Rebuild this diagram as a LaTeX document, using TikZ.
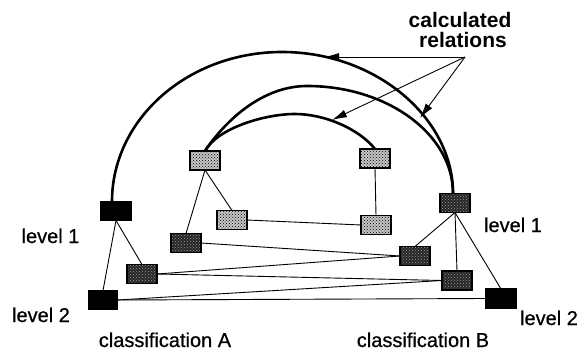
\documentclass[tikz,border=0pt]{standalone}
\usepackage{fontspec}
\setmainfont{Liberation Sans}
\newfontfamily\heavyfont[FakeBold=0.7]{Liberation Sans}
\usetikzlibrary{patterns,arrows.meta}
\begin{document}
\begin{tikzpicture}[x=1pt,y=-1pt,
 box/.style={draw=black,line width=1.4pt,minimum width=30pt,minimum height=19pt,inner sep=0pt,outer sep=0pt},
 blackbox/.style={box,fill=black},
 darkbox/.style={box,preaction={fill=black!85},pattern=crosshatch dots,pattern color=black!40},
 lightbox/.style={box,preaction={fill=gray!45},pattern=crosshatch dots,pattern color=black},
 link/.style={line width=0.9pt},
 rel/.style={line width=2.6pt},
 lead/.style={line width=0.9pt,-{Latex[length=15pt,width=8pt]}},
 lbl/.style={font=\heavyfont\fontsize{20}{22}\selectfont,anchor=base,inner sep=0pt},
 blbl/.style={font=\fontsize{21}{22}\selectfont\bfseries,anchor=base,inner sep=0pt},
]
\useasboundingbox (0,0) rectangle (585,363);

% boxes
\node[blackbox] (A1) at (116,211) {};
\node[blackbox,minimum width=29pt] (A2) at (103,300) {};
\node[darkbox] (A1a) at (142,274) {};
\node[lightbox] (At) at (205,160.5) {};
\node[lightbox] (Am) at (232,220) {};
\node[darkbox] (Ad) at (186,243) {};
\node[lightbox] (Bt) at (375,158.5) {};
\node[lightbox] (Bm) at (376,225) {};
\node[darkbox] (B1) at (455,203) {};
\node[darkbox] (Bd) at (415,256) {};
\node[darkbox] (Bl) at (457,280.5) {};
\node[blackbox] (B2) at (501,298.5) {};

% links
\draw[link] (A1.south) -- (A2.north);
\draw[link] (A1.south) -- (A1a.north);
\draw[link] (At.south) -- (Am.north);
\draw[link] (At.south) -- (Ad.north);
\draw[link] (Am.east) -- (Bm.west);
\draw[link] (Bt.south) -- (Bm.north);
\draw[link] (Ad.east) -- (Bd.west);
\draw[link] (A1a.east) -- (Bd.west);
\draw[link] (A1a.east) -- (Bl.west);
\draw[link] (A2.east) -- (Bl.west);
\draw[link] (A2.east) -- (B2.west);
\draw[link] (B1.south) -- (Bd.north);
\draw[link] (B1.south) -- (Bl.north);
\draw[link] (B1.south) -- (B2.north);

% calculated relations (arcs)
\draw[rel] ([xshift=-4pt]A1.north) .. controls (112,119) and (188,52) .. (282,52)
           .. controls (376,52) and (453,118) .. ([xshift=-2pt]B1.north);
\draw[rel] (At.north) .. controls (225,121) and (262,86) .. (307,86)
           .. controls (387,86) and (453,134) .. ([xshift=-2pt]B1.north);
\draw[rel] (At.north) .. controls (217.5,128) and (265,114) .. (295,114)
           .. controls (325,114) and (359,129) .. (Bt.north);

% leaders
\coordinate (L) at (465,57);
\coordinate (p1) at (324,57);
\coordinate (p2) at (332,120);
\coordinate (p3) at (420,118);
\draw[lead] (L) -- (p1);
\draw[lead] (L) -- (p2);
\draw[lead] (L) -- (p3);

% texts
\node[blbl] (t1) at (460,28) {calculated};
\node[blbl] (t2) at (463,48) {relations};
\node[lbl] (l1a) at (50.5,243) {level 1};
\node[lbl] (l2a) at (41,322) {level 2};
\node[lbl] (l1b) at (513,232) {level 1};
\node[lbl] (l2b) at (549,325) {level 2};
\node[lbl] (cA) at (165,347) {classification A};
\node[lbl] (cB) at (423,347) {classification B};
\end{tikzpicture}
\end{document}
